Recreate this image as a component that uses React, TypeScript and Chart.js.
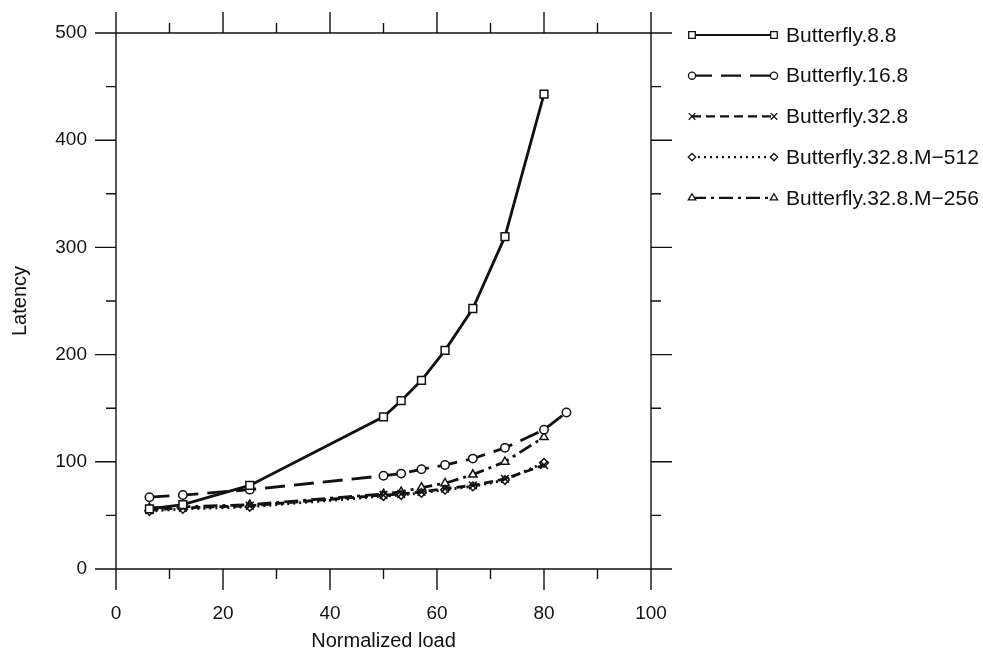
import React, { useEffect, useRef } from 'react';
import { Chart, registerables } from 'chart.js';

Chart.register(...registerables);

// ---- data ----
const loads = [6.25, 12.5, 25, 50, 53.3, 57.1, 61.5, 66.7, 72.7, 80];
const loads16 = [6.25, 12.5, 25, 50, 53.3, 57.1, 61.5, 66.7, 72.7, 80, 84.2];
const butterfly88 = [56, 60, 78, 142, 157, 176, 204, 243, 310, 443];
const butterfly168 = [67, 69, 74, 87, 89, 93, 97, 103, 113, 130, 146];
const butterfly328 = [55, 57, 59, 69, 70, 72, 75, 78, 84, 97];
const butterflyM512 = [54, 56, 58, 68, 69, 71, 74, 77, 83, 99];
const butterflyM256 = [57, 58, 60, 70, 72, 76, 80, 88, 100, 123];
const seriesNames = [
  'Butterfly.8.8',
  'Butterfly.16.8',
  'Butterfly.32.8',
  'Butterfly.32.8.M\u2212512',
  'Butterfly.32.8.M\u2212256',
];
const xMajorTicks = [0, 20, 40, 60, 80, 100];
const xMinorTicks = [10, 30, 50, 70, 90];
const yMajorTicks = [0, 100, 200, 300, 400, 500];
const yMinorTicks = [50, 150, 250, 350, 450];

const INK = '#111';
const FONT = '"Liberation Sans", Arial, Helvetica, sans-serif';

function pts(xs: number[], ys: number[]) {
  return ys.map((y, i) => ({ x: xs[i], y }));
}

function drawMarker(ctx: CanvasRenderingContext2D, style: string, x: number, y: number, r: number) {
  ctx.beginPath();
  let fill = true;
  if (style === 'rect') {
    const s = r * Math.SQRT1_2;
    ctx.rect(x - s, y - s, 2 * s, 2 * s);
  } else if (style === 'circle') {
    ctx.arc(x, y, r, 0, Math.PI * 2);
  } else if (style === 'crossRot') {
    const s = r * Math.SQRT1_2;
    ctx.moveTo(x - s, y - s);
    ctx.lineTo(x + s, y + s);
    ctx.moveTo(x - s, y + s);
    ctx.lineTo(x + s, y - s);
    fill = false;
  } else if (style === 'rectRot') {
    ctx.moveTo(x, y - r);
    ctx.lineTo(x + r, y);
    ctx.lineTo(x, y + r);
    ctx.lineTo(x - r, y);
    ctx.closePath();
  } else if (style === 'triangle') {
    const h = r * 1.5;
    ctx.moveTo(x, y - r);
    ctx.lineTo(x + r * 0.9, y + h - r);
    ctx.lineTo(x - r * 0.9, y + h - r);
    ctx.closePath();
  }
  if (fill) {
    ctx.fillStyle = '#fff';
    ctx.fill();
  }
  ctx.stroke();
}

const framePlugin = {
  id: 'frameTicks',
  afterDraw(chart: any) {
    const ctx: CanvasRenderingContext2D = chart.ctx;
    const xs = chart.scales.x;
    const ys = chart.scales.y;
    const { left, right, top, bottom } = chart.chartArea;
    const major = 21;
    const minor = 10;
    ctx.save();
    ctx.strokeStyle = INK;
    ctx.lineWidth = 1.4;
    ctx.setLineDash([]);
    ctx.beginPath();
    // frame
    ctx.moveTo(left, top);
    ctx.lineTo(right, top);
    ctx.moveTo(left, bottom);
    ctx.lineTo(right, bottom);
    ctx.moveTo(left, top);
    ctx.lineTo(left, bottom);
    ctx.moveTo(right, top);
    ctx.lineTo(right, bottom);
    xMajorTicks.forEach((v) => {
      const px = xs.getPixelForValue(v);
      ctx.moveTo(px, bottom);
      ctx.lineTo(px, bottom + major);
      ctx.moveTo(px, top);
      ctx.lineTo(px, top - major);
    });
    xMinorTicks.forEach((v) => {
      const px = xs.getPixelForValue(v);
      ctx.moveTo(px, bottom);
      ctx.lineTo(px, bottom + minor);
      ctx.moveTo(px, top);
      ctx.lineTo(px, top - minor);
    });
    yMajorTicks.forEach((v) => {
      const py = ys.getPixelForValue(v);
      ctx.moveTo(left, py);
      ctx.lineTo(left - major, py);
      ctx.moveTo(right, py);
      ctx.lineTo(right + major, py);
    });
    yMinorTicks.forEach((v) => {
      const py = ys.getPixelForValue(v);
      ctx.moveTo(left, py);
      ctx.lineTo(left - minor, py);
      ctx.moveTo(right, py);
      ctx.lineTo(right + minor, py);
    });
    ctx.stroke();

    // legend
    const lx0 = right + 41;
    const lx1 = right + 123;
    const tx = right + 135;
    chart.data.datasets.forEach((ds: any, i: number) => {
      const y = 35 + i * 40.7;
      ctx.strokeStyle = INK;
      ctx.lineWidth = 2.2;
      ctx.setLineDash(ds.borderDash || []);
      ctx.beginPath();
      ctx.moveTo(lx0, y);
      ctx.lineTo(lx1, y);
      ctx.stroke();
      ctx.setLineDash([]);
      ctx.lineWidth = 1.3;
      drawMarker(ctx, ds.pointStyle, lx0, y, ds.pointRadius * 0.85);
      drawMarker(ctx, ds.pointStyle, lx1, y, ds.pointRadius * 0.85);
      ctx.fillStyle = INK;
      ctx.font = `21px ${FONT}`;
      ctx.textBaseline = 'middle';
      ctx.textAlign = 'left';
      ctx.fillText(ds.label, tx, y + 1);
    });
    ctx.restore();
  },
};

export default function App() {
  const ref = useRef<HTMLCanvasElement | null>(null);

  useEffect(() => {
    if (!ref.current) return;
    const common = {
      borderColor: INK,
      pointBorderColor: INK,
      pointBackgroundColor: '#fff',
      pointBorderWidth: 1.5,
      borderWidth: 2.8,
      tension: 0,
      fill: false,
      xAxisID: 'x',
      yAxisID: 'y',
    };
    const chart = new Chart(ref.current, {
      type: 'line',
      data: {
        datasets: [
          { ...common, label: seriesNames[0], data: pts(loads, butterfly88), pointStyle: 'rect', pointRadius: 5.5, borderDash: [] },
          { ...common, label: seriesNames[1], data: pts(loads16, butterfly168), pointStyle: 'circle', pointRadius: 4.2, borderDash: [20, 9] },
          { ...common, label: seriesNames[2], data: pts(loads, butterfly328), pointStyle: 'crossRot', pointRadius: 5.5, borderDash: [9, 5] },
          { ...common, label: seriesNames[3], data: pts(loads, butterflyM512), pointStyle: 'rectRot', pointRadius: 4.3, borderDash: [2, 4] },
          { ...common, label: seriesNames[4], data: pts(loads, butterflyM256), pointStyle: 'triangle', pointRadius: 4.8, borderDash: [14, 5, 3, 5] },
        ] as any,
      },
      options: {
        animation: false,
        responsive: false,
        layout: { padding: 0 },
        plugins: { legend: { display: false }, tooltip: { enabled: false } },
        scales: {
          x: {
            type: 'linear',
            position: 'bottom',
            min: 0,
            max: 100,
            ticks: { stepSize: 20, padding: 25.5, color: INK, font: { family: FONT, size: 19 }, maxRotation: 0 },
            grid: { display: false },
            border: { display: false },
            title: { display: true, text: 'Normalized load', color: INK, font: { family: FONT, size: 20 }, padding: { top: 0, bottom: 3 } },
            afterFit: (s: any) => { s.height = 87; },
          },
          y: {
            type: 'linear',
            position: 'left',
            min: 0,
            max: 500,
            ticks: { stepSize: 100, padding: 21, color: INK, font: { family: FONT, size: 19 } },
            grid: { display: false },
            border: { display: false },
            title: { display: true, text: 'Latency', color: INK, font: { family: FONT, size: 20 }, padding: { top: 8, bottom: 0 } },
            afterFit: (s: any) => { s.width = 116; },
          },
          x2: {
            type: 'linear',
            position: 'top',
            min: 0,
            max: 100,
            ticks: { display: false },
            grid: { display: false },
            border: { display: false },
            afterFit: (s: any) => { s.height = 33; },
          },
          y2: {
            type: 'linear',
            position: 'right',
            min: 0,
            max: 500,
            ticks: { display: false },
            grid: { display: false },
            border: { display: false },
            afterFit: (s: any) => { s.width = 332; },
          },
        },
      } as any,
      plugins: [framePlugin],
    });
    return () => chart.destroy();
  }, []);

  return (
    <div style={{ position: 'absolute', left: 0, top: 0, width: 983, height: 656, background: '#fff' }}>
      <canvas ref={ref} width={983} height={656} style={{ display: 'block' }} />
    </div>
  );
}
